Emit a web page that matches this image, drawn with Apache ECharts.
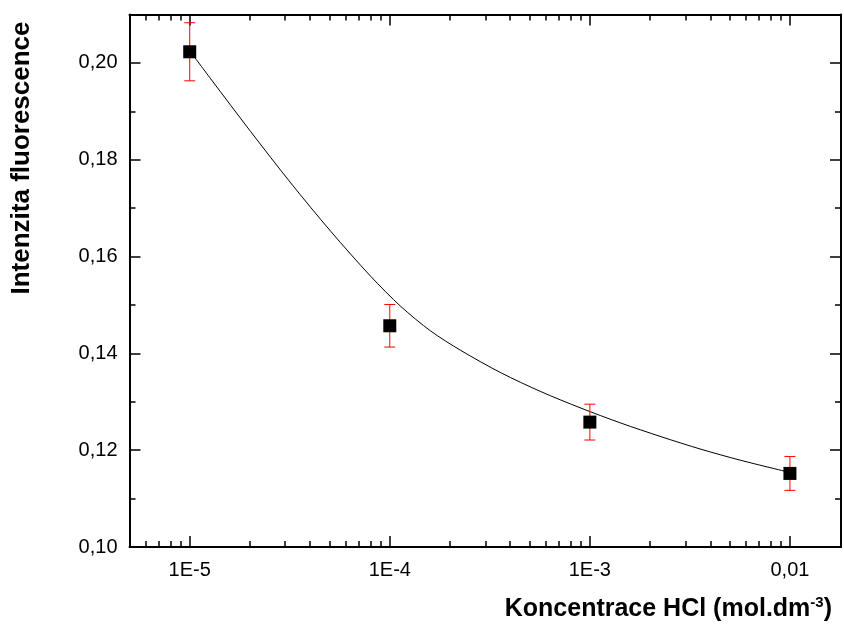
<!DOCTYPE html>
<html><head><meta charset="utf-8">
<script src="https://cdn.jsdelivr.net/npm/echarts@6/dist/echarts.min.js"></script>
<style>html,body{margin:0;padding:0;background:#fff}#c{width:844px;height:625px}</style>
</head><body><div id="c"></div>
<script>
// ---- data ----
const concentrations = [1e-5, 1e-4, 1e-3, 1e-2];
const intensity = [0.2023, 0.1457, 0.1258, 0.1152];
const errors = [0.0060, 0.0044, 0.0037, 0.0035];

// fitted curve, points
const fitX = [1.0e-5, 1.274e-5, 2.018e-5, 3.199e-5, 5.07e-5, 8.035e-5, 1.135e-4, 1.603e-4, 2.265e-4, 3.589e-4, 5.689e-4, 9.016e-4, 1.429e-3, 2.265e-3, 3.589e-3, 5.689e-3, 1.0e-2];
const fitY = [0.2025, 0.1967, 0.1858, 0.1752, 0.1652, 0.1559, 0.1497, 0.1446, 0.1406, 0.1360, 0.1321, 0.1287, 0.1256, 0.1228, 0.1202, 0.1179, 0.1154];

const xMajorTicks = [1e-5, 1e-4, 1e-3, 1e-2];
const xTickLabels = ['1E-5', '1E-4', '1E-3', '0,01'];
const xMinorTicks = [6e-6, 7e-6, 8e-6, 9e-6,
  2e-5, 3e-5, 4e-5, 5e-5, 6e-5, 7e-5, 8e-5, 9e-5,
  2e-4, 3e-4, 4e-4, 5e-4, 6e-4, 7e-4, 8e-4, 9e-4,
  2e-3, 3e-3, 4e-3, 5e-3, 6e-3, 7e-3, 8e-3, 9e-3];
const yMajorTicks = [0.10, 0.12, 0.14, 0.16, 0.18, 0.20];
const yMinorTicks = [0.11, 0.13, 0.15, 0.17, 0.19];

const xMin = 5e-6, xMax = 0.018;
const yMin = 0.10, yMax = 0.21;
const xTitle = 'Koncentrace HCl (mol.dm';
const xTitleSup = '-3';
const yTitle = 'Intenzita fluorescence';

// ---- chart ----
const FONT = '"Liberation Sans", Arial, Helvetica, sans-serif';
const chart = echarts.init(document.getElementById('c'), null, {renderer: 'canvas'});

function xLabel(v) {
  const i = xMajorTicks.findIndex(t => Math.abs(Math.log10(t) - Math.log10(v)) < 1e-6);
  return i >= 0 ? xTickLabels[i] : '';
}

function xAxisDef(pos, ticks, len, showLine, showLabel) {
  return {
    type: 'log', logBase: 10, min: xMin, max: xMax, position: pos, gridIndex: 0,
    axisLine: {show: showLine, onZero: false, lineStyle: {color: '#000', width: 2}},
    axisTick: {show: true, inside: true, length: len, customValues: ticks, lineStyle: {color: '#000', width: 1.5}},
    axisLabel: showLabel ? {show: true, customValues: ticks, formatter: xLabel, margin: 13, fontSize: 20, color: '#000', fontFamily: FONT} : {show: false},
    splitLine: {show: false}, minorTick: {show: false}, minorSplitLine: {show: false}
  };
}
function yAxisDef(pos, ticks, len, showLine, showLabel) {
  return {
    type: 'value', min: yMin, max: yMax, position: pos, gridIndex: 0,
    axisLine: {show: showLine, onZero: false, lineStyle: {color: '#000', width: 2}},
    axisTick: {show: true, inside: true, length: len, customValues: ticks, lineStyle: {color: '#000', width: 1.5}},
    axisLabel: showLabel ? {show: true, customValues: ticks, formatter: v => v.toFixed(2).replace('.', ','), margin: 12, fontSize: 20, color: '#000', fontFamily: FONT} : {show: false},
    splitLine: {show: false}
  };
}

const option = {
  backgroundColor: '#fff',
  animation: false,
  grid: {left: 129.5, right: 3, top: 14.5, bottom: 78, containLabel: false},
  xAxis: [
    xAxisDef('bottom', xMajorTicks, 11, true, true),
    xAxisDef('bottom', xMinorTicks, 6, false, false),
    xAxisDef('top', xMajorTicks, 11, true, false),
    xAxisDef('top', xMinorTicks, 6, false, false)
  ],
  yAxis: [
    yAxisDef('left', yMajorTicks, 11, true, true),
    yAxisDef('left', yMinorTicks, 6, false, false),
    yAxisDef('right', yMajorTicks, 11, true, false),
    yAxisDef('right', yMinorTicks, 6, false, false)
  ],
  series: [
    {
      type: 'line', xAxisIndex: 0, yAxisIndex: 0,
      data: fitX.map((x, i) => [x, fitY[i]]),
      smooth: 0.3, showSymbol: false, symbol: 'none',
      lineStyle: {color: '#000', width: 1}, z: 2
    },
    {
      type: 'custom', xAxisIndex: 0, yAxisIndex: 0,
      data: concentrations.map((x, i) => [x, intensity[i], errors[i]]),
      encode: {x: 0, y: 1},
      renderItem: function (params, api) {
        const x = api.value(0), y = api.value(1), e = api.value(2);
        const t = api.coord([x, y + e]);
        const b = api.coord([x, y - e]);
        const hw = 5.5;
        const st = {stroke: '#ff0000', lineWidth: 1};
        return {type: 'group', children: [
          {type: 'line', shape: {x1: t[0], y1: t[1], x2: b[0], y2: b[1]}, style: st},
          {type: 'line', shape: {x1: t[0] - hw, y1: t[1], x2: t[0] + hw, y2: t[1]}, style: st},
          {type: 'line', shape: {x1: b[0] - hw, y1: b[1], x2: b[0] + hw, y2: b[1]}, style: st}
        ]};
      },
      z: 3
    },
    {
      type: 'scatter', xAxisIndex: 0, yAxisIndex: 0,
      data: concentrations.map((x, i) => [x, intensity[i]]),
      symbol: 'rect', symbolSize: 13,
      itemStyle: {color: '#000', opacity: 1}, z: 4
    }
  ],
  graphic: [
    {
      type: 'text', x: 22, y: 158, rotation: Math.PI / 2,
      style: {text: yTitle, font: 'bold 26px ' + FONT, fill: '#000', align: 'center', verticalAlign: 'middle'}
    },
    {
      type: 'text', x: 832, y: 609,
      style: {
        text: '{a|' + xTitle + '}{s|' + xTitleSup + '}{a|)}',
        align: 'right', verticalAlign: 'middle',
        rich: {
          a: {fontSize: 25, fontWeight: 'bold', fontFamily: FONT, fill: '#000', lineHeight: 28},
          s: {fontSize: 15, fontWeight: 'bold', fontFamily: FONT, fill: '#000', verticalAlign: 'top', lineHeight: 13}
        }
      }
    }
  ]
};
chart.setOption(option);
</script>
</body></html>
